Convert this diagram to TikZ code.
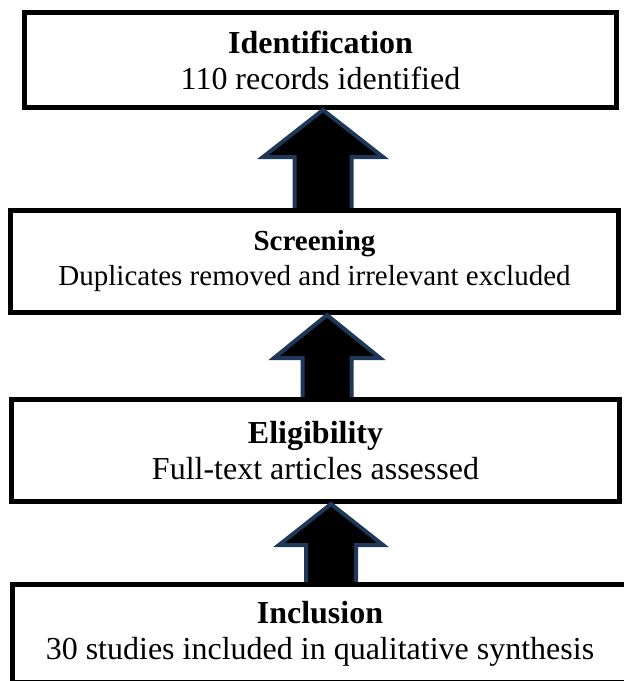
\documentclass[tikz,border=0pt]{standalone}
\usepackage{fontspec}
\setmainfont{Liberation Serif}
\usepackage{tikz}
\usetikzlibrary{calc}
\definecolor{arrowblue}{RGB}{31,56,90}

\begin{document}
\begin{tikzpicture}[x=1pt, y=-1pt,
		box_style/.style={rectangle,draw=black,line width=5pt,fill=white,align=center,inner sep=0pt,font=\fontsize{32}{36}\selectfont},
		text_style/.style={align=center,inner sep=0pt,font=\fontsize{32}{36}\selectfont},
		arrow_style/.style={draw=arrowblue,fill=black,line width=4pt,line join=miter}]
		
		\useasboundingbox (0,0) rectangle (624,681);
		\clip (0,0) rectangle (624,681);
		
		\node[box_style, minimum width=592pt, minimum height=95pt] (n_ident) at (320.5,60) {\textbf{Identification}\\110 records identified};
		\node[box_style, minimum width=608pt, minimum height=102pt, font=\fontsize{29}{35}\selectfont] (n_screen) at (314.5,261.5) {\textbf{Screening}\\Duplicates removed and irrelevant excluded};
		\node[box_style, minimum width=608pt, minimum height=102pt] (n_elig) at (315.5,450.5) {\textbf{Eligibility}\\Full-text articles assessed};
		\node[box_style, minimum width=688pt, minimum height=97.5pt] (n_incl) at (356.5,633.25) {};
		\node[text_style] (n_incl_text) at (320,634) {\textbf{Inclusion}\\30 studies included in qualitative synthesis};
		
		\coordinate (h1) at (323,157);
		\coordinate (h2) at (327,358);
		\coordinate (h3) at (331,545);
		
		\draw[arrow_style] ($(h1 |- n_screen.north)+(-28.5,0)$) -- ($(h1)+(-28.5,0)$) -- ($(h1)+(-60,0)$) -- (h1 |- n_ident.south) -- ($(h1)+(60,0)$) -- ($(h1)+(28.5,0)$) -- ($(h1 |- n_screen.north)+(28.5,0)$);
		\draw[arrow_style] ($(h2 |- n_elig.north)+(-24.5,0)$) -- ($(h2)+(-24.5,0)$) -- ($(h2)+(-53,0)$) -- (h2 |- n_screen.south) -- ($(h2)+(53,0)$) -- ($(h2)+(24.5,0)$) -- ($(h2 |- n_elig.north)+(24.5,0)$);
		\draw[arrow_style] ($(h3 |- n_incl.north)+(-25,0)$) -- ($(h3)+(-25,0)$) -- ($(h3)+(-52,0)$) -- (h3 |- n_elig.south) -- ($(h3)+(52,0)$) -- ($(h3)+(25,0)$) -- ($(h3 |- n_incl.north)+(25,0)$);
		
\end{tikzpicture}
\end{document}
